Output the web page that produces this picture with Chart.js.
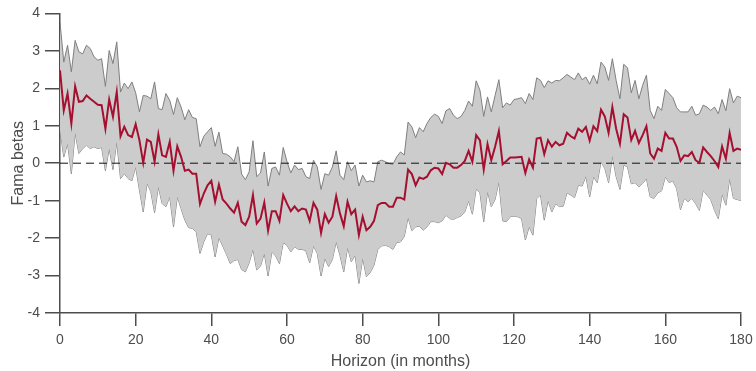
<!DOCTYPE html>
<html>
<head>
<meta charset="utf-8">
<script src="https://cdn.jsdelivr.net/npm/chart.js@4.4.1/dist/chart.umd.min.js"></script>
<style>
  html, body { margin: 0; padding: 0; background: #fff; }
  #wrap { position: relative; width: 756px; height: 371px; }
</style>
</head>
<body>
<div id="wrap"><canvas id="chart"></canvas></div>
<script>
// horizon in months, 0..180
const horizons = Array.from({ length: 181 }, (_, i) => i);

// point estimate (red line)
const betaEstimate = [
  2.48, 1.41, 1.86, 1.06, 2.05, 1.64, 1.66, 1.81, 1.72, 1.64,
  1.56, 1.55, 0.92, 1.70, 1.24, 1.90, 0.72, 0.97, 0.75, 0.70,
  1.04, 0.61, 0.01, 0.63, 0.57, 0.04, 0.77, 0.21, 0.17, 0.57,
  -0.20, 0.45, 0.17, -0.20, -0.17, -0.28, -0.28, -1.09, -0.81, -0.59,
  -0.47, -1.03, -0.57, -0.97, -1.08, -1.21, -1.32, -1.06, -1.56, -1.65,
  -1.43, -0.85, -1.61, -1.48, -1.05, -1.80, -1.28, -1.28, -1.54, -0.85,
  -1.08, -1.28, -1.15, -1.28, -1.21, -1.24, -1.54, -1.06, -1.24, -1.86,
  -1.36, -1.59, -1.43, -0.88, -1.34, -1.68, -1.03, -1.36, -1.24, -1.92,
  -1.43, -1.79, -1.70, -1.54, -1.12, -1.06, -1.06, -1.16, -1.16, -0.92,
  -0.92, -0.97, -0.17, -0.29, -0.59, -0.38, -0.42, -0.36, -0.19, -0.12,
  -0.14, -0.29, 0.01, -0.03, -0.12, -0.12, -0.05, 0.06, 0.33, 0.04,
  0.75, 0.61, -0.17, 0.51, 0.08, 0.44, 0.86, -0.03, 0.06, 0.15,
  0.15, 0.16, 0.17, -0.26, 0.10, -0.12, 0.66, 0.68, 0.24, 0.61,
  0.44, 0.57, 0.48, 0.52, 0.81, 0.72, 0.66, 0.92, 0.84, 0.97,
  0.60, 0.99, 0.86, 1.43, 1.25, 0.81, 1.50, 0.92, 0.52, 1.31,
  1.22, 0.62, 0.86, 0.54, 0.75, 0.99, 0.26, 0.12, 0.39, 0.33,
  0.81, 0.66, 0.66, 0.44, 0.06, 0.21, 0.19, 0.30, 0.08, 0.01,
  0.42, 0.30, 0.19, 0.06, -0.10, 0.45, 0.12, 0.81, 0.33, 0.39,
  0.36
];

// upper edge of the confidence band
const bandUpper = [
  3.76, 2.70, 3.15, 2.44, 3.28, 2.97, 2.92, 3.15, 3.06, 2.84,
  2.75, 2.79, 2.05, 3.01, 2.66, 3.24, 1.90, 2.14, 1.99, 2.17,
  1.88, 1.37, 1.81, 1.79, 1.72, 2.17, 1.46, 1.43, 1.86, 1.68,
  1.30, 1.75, 1.50, 1.16, 1.43, 1.22, 1.19, 0.44, 0.72, 0.84,
  0.95, 0.45, 0.83, 0.26, 0.24, 0.17, 0.04, 0.44, -0.29, -0.44,
  -0.23, 0.60, -0.36, -0.26, 0.30, -0.61, -0.14, -0.10, -0.32, 0.42,
  0.04, -0.26, -0.05, -0.17, -0.14, -0.36, -0.41, 0.08, -0.10, -0.70,
  -0.28, -0.32, -0.10, 0.33, -0.32, -0.44, 0.04, -0.20, -0.05, -0.61,
  -0.32, -0.50, -0.47, -0.50, 0.04, 0.08, 0.04, -0.01, -0.03, 0.17,
  0.30, 0.22, 1.10, 0.97, 0.68, 0.95, 0.84, 1.06, 1.22, 1.31,
  1.25, 1.06, 1.40, 1.46, 1.28, 1.19, 1.25, 1.41, 1.66, 1.52,
  2.20, 1.95, 1.25, 1.77, 1.37, 1.81, 2.23, 1.48, 1.61, 1.55,
  1.70, 1.72, 1.75, 1.59, 1.86, 1.70, 2.28, 2.21, 2.02, 2.20,
  2.14, 2.21, 2.20, 2.28, 2.37, 2.30, 2.23, 2.41, 2.23, 2.30,
  2.11, 2.35, 2.12, 2.70, 2.57, 2.21, 2.79, 2.21, 1.72, 2.64,
  2.55, 1.88, 2.21, 1.72, 2.08, 2.35, 1.41, 1.19, 1.52, 1.41,
  1.97, 1.86, 1.75, 1.48, 1.37, 1.37, 1.37, 1.52, 1.28, 1.32,
  1.55, 1.50, 1.41, 1.50, 1.32, 1.70, 1.40, 1.99, 1.61, 1.79,
  1.75
];

// lower edge of the confidence band
const bandLower = [
  0.88, 0.17, 0.52, -0.28, 0.81, 0.26, 0.39, 0.48, 0.39, 0.44,
  0.39, 0.42, -0.20, 0.39, -0.17, 0.57, -0.41, -0.28, -0.41, -0.47,
  -0.10, -0.72, -1.30, -0.54, -0.76, -1.32, -0.63, -1.08, -1.16, -0.90,
  -1.70, -0.90, -1.21, -1.52, -1.72, -1.74, -1.83, -2.41, -2.10, -1.88,
  -1.92, -2.50, -1.99, -2.21, -2.43, -2.68, -2.60, -2.57, -2.84, -2.90,
  -2.66, -2.30, -2.85, -2.75, -2.41, -3.01, -2.37, -2.48, -2.68, -2.12,
  -2.19, -2.37, -2.23, -2.30, -2.30, -2.34, -2.66, -2.21, -2.41, -3.01,
  -2.54, -2.76, -2.57, -2.10, -2.46, -2.90, -2.25, -2.63, -2.46, -3.21,
  -2.54, -3.03, -2.92, -2.72, -2.30, -2.21, -2.19, -2.23, -2.30, -2.12,
  -2.10, -1.96, -1.45, -1.80, -1.70, -1.68, -1.79, -1.70, -1.56, -1.56,
  -1.59, -1.54, -1.39, -1.48, -1.50, -1.45, -1.41, -1.30, -1.00, -1.36,
  -0.68, -0.79, -1.56, -0.76, -1.16, -0.97, -0.50, -1.54, -1.56, -1.43,
  -1.41, -1.43, -1.48, -2.05, -1.70, -1.92, -0.94, -0.85, -1.52, -1.00,
  -1.30, -1.08, -1.16, -1.15, -0.79, -0.85, -0.92, -0.59, -0.61, -0.35,
  -0.90, -0.36, -0.52, 0.04, -0.14, -0.52, 0.19, -0.36, -0.70, -0.05,
  -0.10, -0.55, -0.52, -0.63, -0.54, -0.41, -0.90, -0.94, -0.79, -0.74,
  -0.36, -0.52, -0.47, -0.68, -1.24, -0.94, -1.03, -0.94, -1.08, -1.26,
  -0.72, -0.85, -0.97, -1.26, -1.48, -0.83, -1.12, -0.41, -0.94, -0.97,
  -1.00
];

const xTicks = [0, 20, 40, 60, 80, 100, 120, 140, 160, 180];
const yTicks = [-4, -3, -2, -1, 0, 1, 2, 3, 4];

const toPoints = arr => arr.map((v, i) => ({ x: horizons[i], y: v }));
const axisColor = '#4d4d4d';

Chart.defaults.font.family = "'Liberation Sans', Arial, Helvetica, sans-serif";
Chart.defaults.color = axisColor;

const ctx = document.getElementById('chart').getContext('2d');
new Chart(ctx, {
  type: 'line',
  data: {
    datasets: [
      {
        label: 'estimate',
        data: toPoints(betaEstimate),
        borderColor: '#a50f30',
        borderWidth: 2,
        pointRadius: 0,
        fill: false
      },
      {
        label: 'zero',
        data: [{ x: xTicks[0], y: 0 }, { x: xTicks[xTicks.length - 1], y: 0 }],
        borderColor: '#111',
        borderWidth: 1,
        borderDash: [8, 5],
        pointRadius: 0,
        fill: false
      },
      {
        label: 'upper',
        data: toPoints(bandUpper),
        borderColor: '#7f7f7f',
        borderWidth: 1,
        pointRadius: 0,
        backgroundColor: '#cccccc',
        fill: 3
      },
      {
        label: 'lower',
        data: toPoints(bandLower),
        borderColor: '#7f7f7f',
        borderWidth: 1,
        pointRadius: 0,
        fill: false
      }
    ]
  },
  options: {
    responsive: true,
    maintainAspectRatio: false,
    animation: false,
    layout: { padding: { top: 13, right: 15, left: 0, bottom: 0 } },
    plugins: {
      legend: { display: false },
      tooltip: { enabled: false }
    },
    scales: {
      x: {
        type: 'linear',
        min: 0,
        max: 180,
        afterFit: scale => {
          scale.height = 58;
          scale.paddingLeft = 0;
          scale.paddingRight = 0;
        },
        afterBuildTicks: scale => { scale.ticks = xTicks.map(v => ({ value: v })); },
        border: { display: true, color: axisColor, width: 1.5 },
        grid: { drawOnChartArea: false, color: axisColor, lineWidth: 1.5, tickLength: 13 },
        ticks: { font: { size: 14 }, color: axisColor, padding: 6, maxRotation: 0 },
        title: {
          display: true,
          text: 'Horizon (in months)',
          font: { size: 16 },
          color: axisColor,
          padding: { top: 0, bottom: 0 }
        }
      },
      y: {
        type: 'linear',
        min: -4,
        max: 4,
        afterFit: scale => { scale.width = 60; },
        afterBuildTicks: scale => { scale.ticks = yTicks.map(v => ({ value: v })); },
        border: { display: true, color: axisColor, width: 1.5 },
        grid: { drawOnChartArea: false, color: axisColor, lineWidth: 1.5, tickLength: 15 },
        ticks: { font: { size: 14 }, color: axisColor, padding: 5 },
        title: {
          display: true,
          text: 'Fama betas',
          font: { size: 16 },
          color: axisColor,
          padding: { top: 9, bottom: 0 }
        }
      }
    }
  }
});
</script>
</body>
</html>
